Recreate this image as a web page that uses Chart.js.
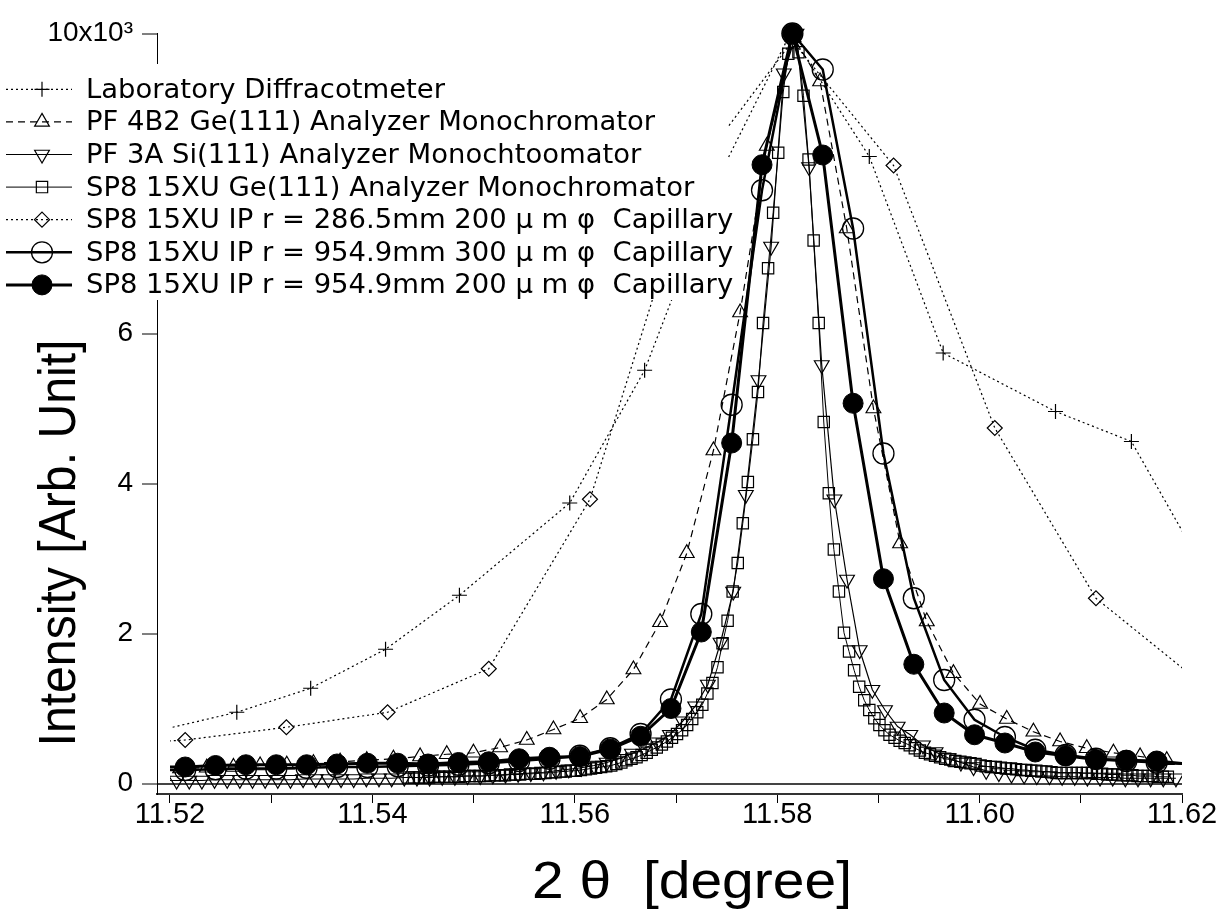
<!DOCTYPE html>
<html><head><meta charset="utf-8">
<script src="https://cdn.jsdelivr.net/npm/chart.js@4.4.1/dist/chart.umd.min.js"></script>
<style>html,body{margin:0;padding:0;background:#fff;}#wrap{width:1220px;height:915px;position:relative;}</style>
</head><body><div id="wrap"><canvas id="c" width="1220" height="915"></canvas></div>
<script>
// ---------------- data ----------------
const xTickValues = [11.52, 11.53, 11.54, 11.55, 11.56, 11.57, 11.58, 11.59, 11.60, 11.61, 11.62];
const xTickLabels = ['11.52', '', '11.54', '', '11.56', '', '11.58', '', '11.60', '', '11.62'];
const yTickValues = [0, 2, 4, 6, 8, 10];
const yTickLabels = ['0', '2', '4', '6', '8', '10x10³'];

const seriesNames = [
  'Laboratory Diffracotmeter',
  'PF 4B2 Ge(111) Analyzer Monochromator',
  'PF 3A Si(111) Analyzer Monochtoomator',
  'SP8 15XU Ge(111) Analyzer Monochromator',
  'SP8 15XU IP r = 286.5mm 200 μ m φ  Capillary',
  'SP8 15XU IP r = 954.9mm 300 μ m φ  Capillary',
  'SP8 15XU IP r = 954.9mm 200 μ m φ  Capillary'
];

// Laboratory diffractometer (irregular sampling)
const labX = [11.5193, 11.5266, 11.5339, 11.5413, 11.5486, 11.5595, 11.5669, 11.5743, 11.5813, 11.5891, 11.5964, 11.6075, 11.6150, 11.6224];
const labY = [0.72, 0.95, 1.27, 1.79, 2.51, 3.74, 5.51, 8.11, 10.0, 8.36, 5.74, 4.96, 4.56, 2.80];

// PF 4B2 Ge(111)
const pf4b2Start = 11.5210, pf4b2Step = 0.002635;
const pf4b2Y = [0.20, 0.21, 0.22, 0.24, 0.25, 0.27, 0.29, 0.31, 0.33, 0.36,
  0.39, 0.41, 0.48, 0.58, 0.72, 0.87, 1.12, 1.52, 2.15, 3.07,
  4.44, 6.28, 8.50, 9.95, 9.36, 7.40, 5.00, 3.20, 2.16, 1.47,
  1.06, 0.86, 0.69, 0.56, 0.47, 0.41, 0.36, 0.31];

// PF 3A Si(111)
const pf3aStart = 11.5194, pf3aStep = 0.00125;
const pf3aY = [0.04, 0.04, 0.04, 0.04, 0.05, 0.05, 0.05, 0.05, 0.05, 0.05, 0.05,
  0.06, 0.06, 0.06, 0.06, 0.06, 0.07, 0.07, 0.07, 0.08, 0.08,
  0.08, 0.09, 0.09, 0.10, 0.10, 0.11, 0.12, 0.13, 0.14, 0.15,
  0.17, 0.19, 0.21, 0.24, 0.28, 0.33, 0.40, 0.47, 0.55,
  0.65, 0.83, 1.03, 1.32, 1.88, 2.56, 3.85, 5.38, 7.16, 9.47, 10.0,
  8.22, 5.58, 3.79, 2.72, 1.78, 1.25, 0.98, 0.76, 0.65, 0.51,
  0.42, 0.34, 0.28, 0.22, 0.17, 0.14, 0.12, 0.11, 0.10, 0.10,
  0.09, 0.09, 0.08, 0.08, 0.08, 0.07, 0.07, 0.07, 0.07, 0.07];

// SP8 15XU Ge(111)
const sp8GeStart = 11.5436, sp8GeStep = 0.0005;
const sp8GeY = [0.08, 0.08, 0.08, 0.08, 0.08, 0.09, 0.09, 0.09, 0.09, 0.09,
  0.09, 0.10, 0.10, 0.10, 0.10, 0.10, 0.11, 0.11, 0.11, 0.11,
  0.12, 0.12, 0.12, 0.13, 0.13, 0.13, 0.14, 0.14, 0.15, 0.15,
  0.16, 0.16, 0.17, 0.17, 0.18, 0.19, 0.20, 0.21, 0.22, 0.23,
  0.24, 0.26, 0.28, 0.31, 0.33, 0.35, 0.38, 0.41, 0.45, 0.48,
  0.52, 0.56, 0.61, 0.66, 0.71, 0.78, 0.86, 0.95, 1.05, 1.20,
  1.34, 1.55, 1.87, 2.17, 2.56, 2.94, 3.47, 4.02, 4.59, 5.22,
  6.14, 6.87, 7.61, 8.41, 9.22, 9.73, 10.0, 9.75, 9.17, 8.32,
  7.24, 6.14, 4.82, 3.87, 3.12, 2.56, 2.01, 1.76, 1.51, 1.29,
  1.11, 0.98, 0.87, 0.78, 0.71, 0.65, 0.61, 0.57, 0.54, 0.51,
  0.47, 0.44, 0.41, 0.39, 0.37, 0.35, 0.33, 0.32, 0.30, 0.29,
  0.28, 0.27, 0.26, 0.24, 0.23, 0.22, 0.22, 0.21, 0.20, 0.20,
  0.19, 0.18, 0.18, 0.17, 0.17, 0.16, 0.16, 0.15, 0.14, 0.14,
  0.14, 0.14, 0.14, 0.14, 0.14, 0.14, 0.13, 0.13, 0.12, 0.12,
  0.12, 0.11, 0.11, 0.11, 0.10, 0.10, 0.10, 0.10, 0.09, 0.09,
  0.09];

// SP8 15XU IP r = 286.5mm
const ip286Start = 11.5115, ip286Step = 0.01;
const ip286Y = [0.50, 0.58, 0.75, 0.95, 1.53, 3.79, 8.10, 9.90, 8.24, 4.74, 2.47, 1.38];

// SP8 15XU IP r = 954.9mm (300 um and 200 um share one grid)
const ip954Start = 11.5185, ip954Step = 0.003;
const ip300Y = [0.18, 0.18, 0.19, 0.20, 0.20, 0.21, 0.22, 0.22, 0.23, 0.24,
  0.25, 0.27, 0.30, 0.33, 0.37, 0.47, 0.66, 1.12, 2.26, 5.05,
  7.91, 10.0, 9.52, 7.40, 4.40, 2.47, 1.38, 0.85, 0.62, 0.45,
  0.38, 0.33, 0.30, 0.28, 0.26];
const ip200Y = [0.22, 0.22, 0.24, 0.25, 0.25, 0.25, 0.26, 0.27, 0.27, 0.26,
  0.28, 0.29, 0.33, 0.35, 0.36, 0.46, 0.63, 1.00, 2.02, 4.54,
  8.25, 10.0, 8.38, 5.07, 2.73, 1.59, 0.94, 0.65, 0.54, 0.42,
  0.37, 0.32, 0.31, 0.30, 0.26];

// ---------------- build ----------------
const pairs = (xs, ys) => ys.map((y, i) => ({x: xs[i], y}));
const grid = (start, step, ys) => ys.map((y, i) => ({x: +(start + step * i).toFixed(6), y}));

const X_MIN = 11.52, X_MAX = 11.62;
const inRange = ctx => {
  const r = ctx.raw;
  return r && r.x >= X_MIN - 1e-9 && r.x <= X_MAX + 1e-9;
};

const styles = [
  {dash: [2, 3], lw: 1.2, ps: 'cross', r: 7.5, rot: 0, fill: 'rgba(0,0,0,0)', pbw: 1.2},
  {dash: [7, 5], lw: 1.2, ps: 'triangle', r: 8.5, rot: 0, fill: 'rgba(0,0,0,0)', pbw: 1.2},
  {dash: [], lw: 1.2, ps: 'triangle', r: 8.5, rot: 180, fill: 'rgba(0,0,0,0)', pbw: 1.2},
  {dash: [], lw: 1, ps: 'rect', r: 8, rot: 0, fill: 'rgba(0,0,0,0)', pbw: 1.2},
  {dash: [2, 3], lw: 1.2, ps: 'rectRot', r: 7.5, rot: 0, fill: 'rgba(0,0,0,0)', pbw: 1.2},
  {dash: [], lw: 2.5, ps: 'circle', r: 10.5, rot: 0, fill: 'rgba(0,0,0,0)', pbw: 1.3},
  {dash: [], lw: 3, ps: 'circle', r: 10, rot: 0, fill: '#000', pbw: 1}
];

const seriesData = [
  pairs(labX, labY),
  grid(pf4b2Start, pf4b2Step, pf4b2Y),
  grid(pf3aStart, pf3aStep, pf3aY),
  grid(sp8GeStart, sp8GeStep, sp8GeY),
  grid(ip286Start, ip286Step, ip286Y),
  grid(ip954Start, ip954Step, ip300Y),
  grid(ip954Start, ip954Step, ip200Y)
];

const datasets = seriesData.map((d, i) => {
  const s = styles[i];
  return {
    label: seriesNames[i],
    data: d,
    order: 7 - i,
    borderColor: '#000',
    borderWidth: s.lw,
    borderDash: s.dash,
    backgroundColor: s.fill,
    pointStyle: s.ps,
    pointRotation: s.rot,
    pointRadius: ctx => inRange(ctx) ? s.r : 0,
    pointBorderColor: '#000',
    pointBackgroundColor: s.fill,
    pointBorderWidth: s.pbw,
    pointHoverRadius: 0,
    tension: 0,
    fill: false,
    clip: {left: -13, top: 15, right: 0, bottom: 0}
  };
});

// legend + axis titles drawn on top
const overlay = {
  id: 'overlay',
  afterDraw(chart) {
    const ctx = chart.ctx;
    ctx.save();
    // legend box (opaque, covers the plot as in the reference)
    ctx.fillStyle = '#fff';
    ctx.fillRect(0, 64, 728, 236);
    const rowY0 = 89.3, rowH = 32.6;
    seriesNames.forEach((name, i) => {
      const s = styles[i];
      const y = rowY0 + rowH * i;
      ctx.save();
      ctx.strokeStyle = '#000';
      ctx.lineWidth = s.lw;
      ctx.setLineDash(s.dash);
      ctx.beginPath();
      ctx.moveTo(6, y);
      ctx.lineTo(72, y);
      ctx.stroke();
      ctx.setLineDash([]);
      ctx.fillStyle = s.fill;
      ctx.lineWidth = s.pbw;
      Chart.helpers.drawPoint(ctx, {pointStyle: s.ps, radius: s.r, rotation: s.rot, borderWidth: s.pbw}, 42, y);
      ctx.restore();
      ctx.save();
      ctx.translate(86, y + 8.5);
      ctx.scale(1.055, 1);
      ctx.fillStyle = '#000';
      ctx.font = '26px "DejaVu Sans"';
      ctx.textAlign = 'left';
      ctx.textBaseline = 'alphabetic';
      ctx.fillText(name, 0, 0);
      ctx.restore();
    });
    // axis titles
    const fitText = (text, cx, cy, rot, fontPx, targetW) => {
      ctx.save();
      ctx.translate(cx, cy);
      ctx.rotate(rot);
      ctx.font = fontPx + 'px "Liberation Sans"';
      const w = ctx.measureText(text).width;
      ctx.scale(targetW / w, 1);
      ctx.fillStyle = '#000';
      ctx.textAlign = 'center';
      ctx.textBaseline = 'alphabetic';
      ctx.fillText(text, 0, 0);
      ctx.restore();
    };
    fitText('Intensity [Arb. Unit]', 75, 543, -Math.PI / 2, 52, 407);
    fitText('2 θ  [degree]', 692, 898, 0, 52, 320);
    ctx.restore();
  }
};

new Chart(document.getElementById('c'), {
  type: 'line',
  data: {datasets},
  options: {
    responsive: false,
    devicePixelRatio: 1,
    animation: false,
    events: [],
    layout: {padding: {left: 0, top: 33.5, right: 38, bottom: 0}},
    plugins: {legend: {display: false}, tooltip: {enabled: false}, title: {display: false}},
    scales: {
      x: {
        type: 'linear',
        min: X_MIN - 13 / 10120,
        max: X_MAX,
        afterBuildTicks: s => { s.ticks = xTickValues.map(v => ({value: v})); },
        afterFit: s => { s.height = 121; },
        ticks: {
          callback: (v, i) => xTickLabels[i],
          font: {family: 'Liberation Sans', size: 29},
          color: '#000', padding: -5, maxRotation: 0, minRotation: 0, autoSkip: false
        },
        grid: {drawOnChartArea: false, drawTicks: true, tickLength: 9, tickColor: '#000', tickWidth: 1, color: 'rgba(0,0,0,0)'},
        border: {display: true, color: '#333', width: 2}
      },
      y: {
        type: 'linear',
        min: -0.14,
        max: 10,
        afterBuildTicks: s => { s.ticks = yTickValues.map(v => ({value: v})); },
        afterFit: s => { s.width = 157; },
        ticks: {
          callback: (v, i) => yTickLabels[i],
          font: {family: 'Liberation Sans', size: 28},
          color: '#000', padding: 9
        },
        grid: {
          drawOnChartArea: true, drawTicks: true, tickLength: 15, tickColor: '#000', tickWidth: 1,
          color: c => (c.tick && c.tick.value === 0) ? '#444' : 'rgba(0,0,0,0)',
          lineWidth: 2
        },
        border: {display: true, color: '#000', width: 1}
      }
    }
  },
  plugins: [overlay]
});
</script>
</body></html>
